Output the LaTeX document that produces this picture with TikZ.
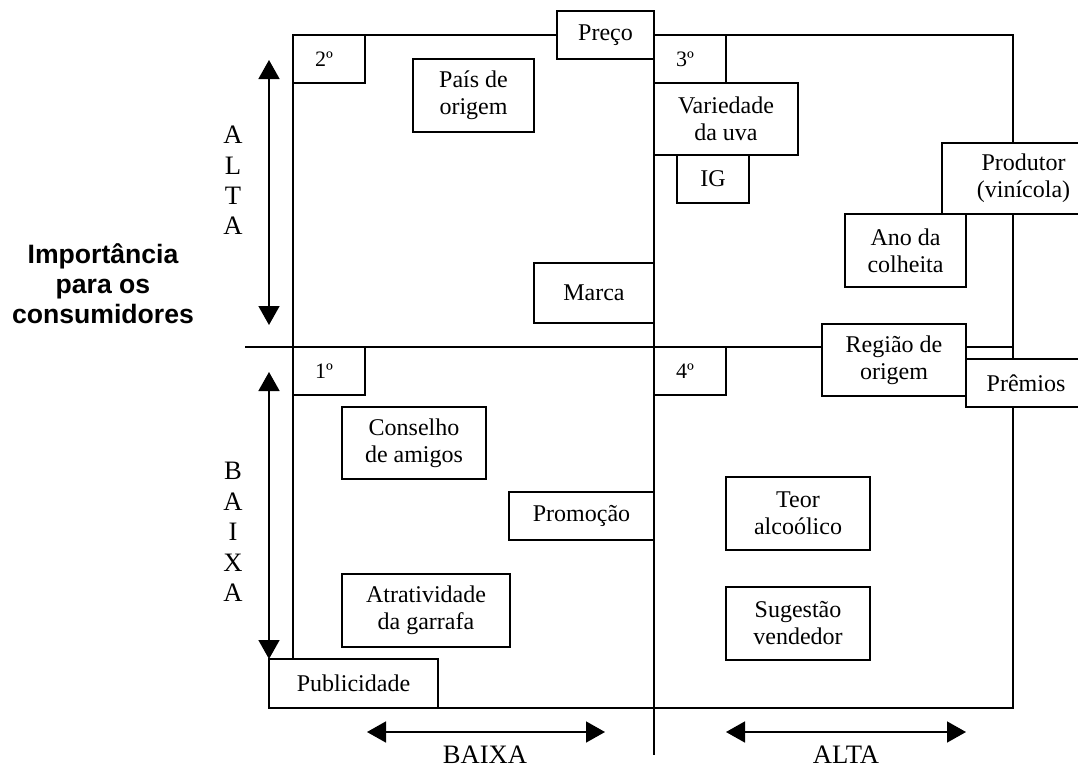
\documentclass[tikz,border=0pt]{standalone}
\usepackage{fontspec}
\setmainfont{Liberation Serif}
\newfontfamily\arialfont{Liberation Sans}
\usetikzlibrary{arrows.meta}

\begin{document}
\begin{tikzpicture}[x=0.5pt,y=-0.5pt,
  caixa/.style={draw,fill=white,line width=0.9pt,inner sep=0pt,align=center,font=\fontsize{12}{13.5}\selectfont},
  canto/.style={caixa,minimum width=36pt,minimum height=24pt,text width=14pt,align=left,font=\fontsize{11}{12}\selectfont},
  eixo/.style={{Triangle[length=9.5pt,width=10.5pt]}-{Triangle[length=9.5pt,width=10.5pt]},line width=0.8pt},
  rotulo/.style={font=\fontsize{13.3}{15.2}\selectfont,align=center}]
  \useasboundingbox (0,0) rectangle (1078,767);

  \coordinate (nw) at (293,35);
  \coordinate (se) at (1013,708);
  \coordinate (vtop) at (654,35);
  \coordinate (vbot) at (654,755);
  \coordinate (hesq) at (245,347);
  \coordinate (hdir) at (1013,347);
  \draw[line width=0.9pt] (nw) rectangle (se);
  \draw[line width=0.9pt] (vtop) -- (vbot);
  \draw[line width=0.9pt] (hesq) -- (hdir);

  \node[canto] (q2) at (329,59) {2º};
  \node[canto] (q3) at (690,59) {3º};
  \node[canto] (q1) at (329,371) {1º};
  \node[canto] (q4) at (690,371) {4º};

  \node[caixa,minimum width=48.5pt,minimum height=24pt] (preco) at (605.5,35) {Preço};
  \node[caixa,minimum width=60.5pt,minimum height=36.5pt] (pais) at (473.5,95.5) {País de\\origem};
  \node[caixa,minimum width=72pt,minimum height=36pt] (variedade) at (726,119) {Variedade\\da uva};
  \node[caixa,minimum width=36pt,minimum height=24pt] (ig) at (713,179) {IG};
  \node[caixa,minimum width=81.5pt,minimum height=35.5pt] (produtor) at (1023.5,178.5) {Produtor\\(vinícola)};
  \node[caixa,minimum width=60.5pt,minimum height=36.5pt] (ano) at (905.5,250.5) {Ano da\\colheita};
  \node[caixa,minimum width=60pt,minimum height=30pt] (marca) at (594,293) {Marca};
  \node[caixa,minimum width=72pt,minimum height=36pt] (regiao) at (894,360) {Região de\\origem};
  \node[caixa,minimum width=60pt,minimum height=24pt] (premios) at (1026,383) {Prêmios};
  \node[caixa,minimum width=72pt,minimum height=36pt] (conselho) at (414,443) {Conselho\\de amigos};
  \node[caixa,minimum width=72.5pt,minimum height=24pt] (promocao) at (581.5,516) {Promoção};
  \node[caixa,minimum width=72pt,minimum height=36.5pt] (teor) at (798,513.5) {Teor\\alcoólico};
  \node[caixa,minimum width=72pt,minimum height=36.5pt] (sugestao) at (798,623.5) {Sugestão\\vendedor};
  \node[caixa,minimum width=84pt,minimum height=36.5pt] (atrat) at (426,610.5) {Atratividade\\da garrafa};
  \node[caixa,minimum width=84.5pt,minimum height=24.5pt] (pub) at (353.5,683.5) {Publicidade};

  \coordinate (altaA) at (269,60);
  \coordinate (altaB) at (269,325);
  \coordinate (baixaA) at (269,372);
  \coordinate (baixaB) at (269,659);
  \coordinate (hbA) at (367,732);
  \coordinate (hbB) at (605,732);
  \coordinate (haA) at (726,732);
  \coordinate (haB) at (966,732);
  \draw[eixo] (altaA) -- (altaB);
  \draw[eixo] (baixaA) -- (baixaB);
  \draw[eixo] (hbA) -- (hbB);
  \draw[eixo] (haA) -- (haB);

  \node[rotulo] (lalta) at (233,180.5) {A\\L\\T\\A};
  \node[rotulo] (lbaixa) at (233,532) {B\\A\\I\\X\\A};
  \node[rotulo,anchor=base] (lhbaixa) at (485,763) {BAIXA};
  \node[rotulo,anchor=base] (lhalta) at (846,763) {ALTA};
  \node[font=\arialfont\bfseries\fontsize{13.3}{15}\selectfont,align=center] (imp) at (103,283.5) {Importância\\para os\\consumidores};
\end{tikzpicture}
\end{document}
